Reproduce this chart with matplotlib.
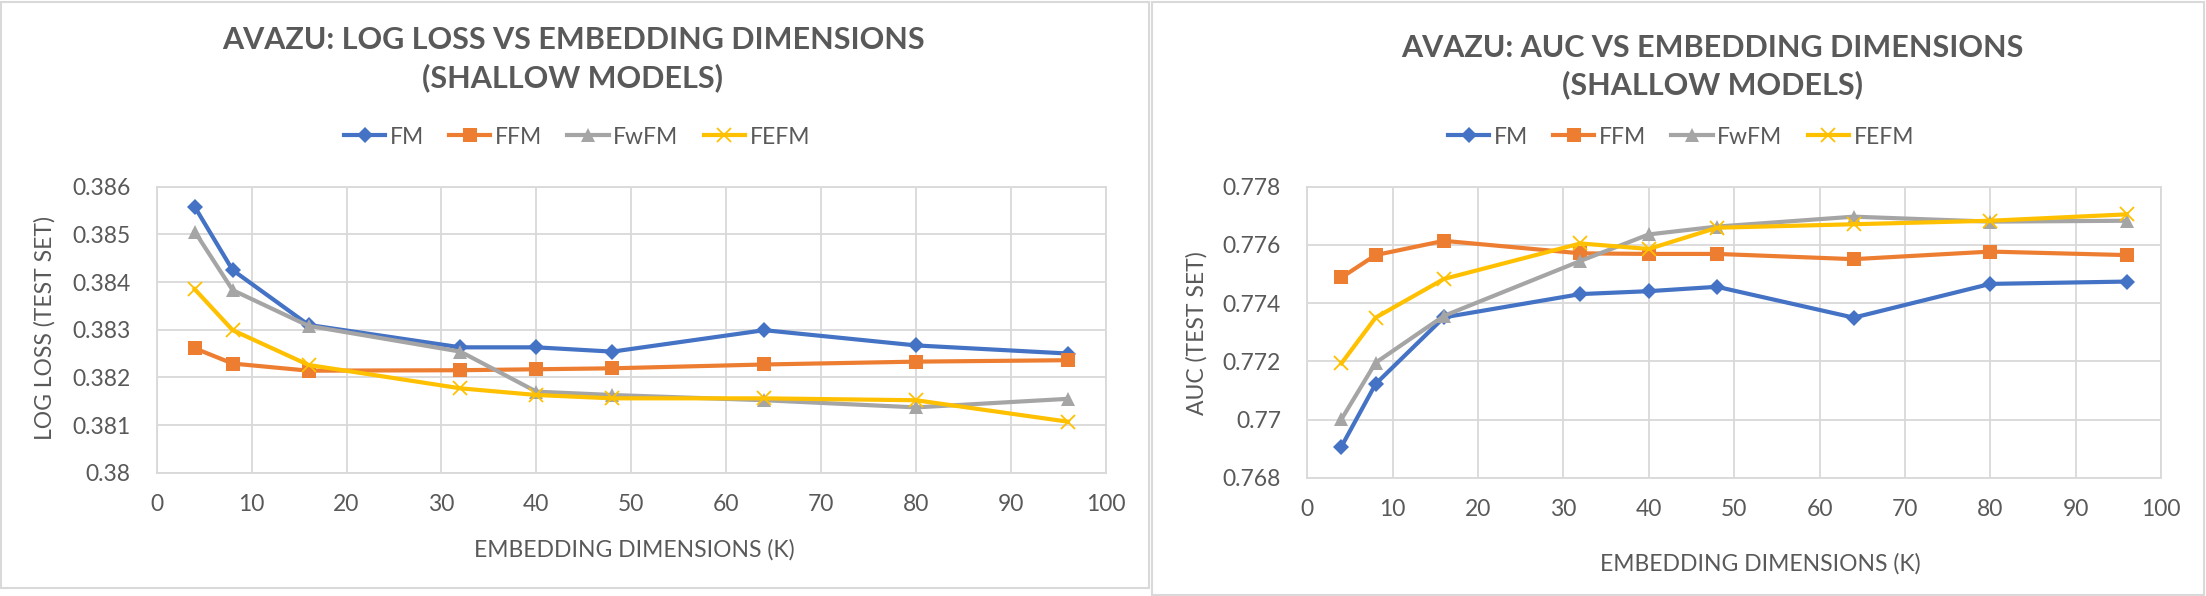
import matplotlib
matplotlib.use("Agg")
import matplotlib.pyplot as plt
from matplotlib.patches import Rectangle
from matplotlib.ticker import FuncFormatter

# ---------------- data ----------------
embedding_dims = [4, 8, 16, 32, 40, 48, 64, 80, 96]
series_names = ["FM", "FFM", "FwFM", "FEFM"]

logloss_fm = [0.38558, 0.38425, 0.38310, 0.38263, 0.38263, 0.38254, 0.38299, 0.38267, 0.38250]
logloss_ffm = [0.38261, 0.38229, 0.38214, 0.38215, 0.38217, 0.38219, 0.38227, 0.38233, 0.38236]
logloss_fwfm = [0.38506, 0.38383, 0.38308, 0.38254, 0.38170, 0.38163, 0.38152, 0.38137, 0.38155]
logloss_fefm = [0.38385, 0.38299, 0.38226, 0.38177, 0.38163, 0.38156, 0.38156, 0.38152, 0.38107]

auc_fm = [0.76907, 0.77122, 0.77351, 0.77431, 0.77441, 0.77456, 0.77350, 0.77466, 0.77474]
auc_ffm = [0.77488, 0.77565, 0.77614, 0.77571, 0.77569, 0.77569, 0.77551, 0.77577, 0.77565]
auc_fwfm = [0.77001, 0.77195, 0.77356, 0.77545, 0.77636, 0.77663, 0.77697, 0.77680, 0.77683]
auc_fefm = [0.77193, 0.77350, 0.77483, 0.77605, 0.77586, 0.77659, 0.77671, 0.77683, 0.77705]

x_ticks = [0, 10, 20, 30, 40, 50, 60, 70, 80, 90, 100]
logloss_ticks = [0.380, 0.381, 0.382, 0.383, 0.384, 0.385, 0.386]
auc_ticks = [0.768, 0.770, 0.772, 0.774, 0.776, 0.778]

title_left = "AVAZU: LOG LOSS VS EMBEDDING DIMENSIONS\n(SHALLOW MODELS)"
title_right = "AVAZU: AUC VS EMBEDDING DIMENSIONS\n(SHALLOW MODELS)"
xlabel_text = "EMBEDDING DIMENSIONS (K)"
ylabel_left = "LOG LOSS (TEST SET)"
ylabel_right = "AUC (TEST SET)"

# ---------------- style ----------------
W, H = 2206, 596
TXT = "#595959"
GRID = "#D9D9D9"
colors = ["#4472C4", "#ED7D31", "#A5A5A5", "#FFC000"]
markers = ["D", "s", "^", "x"]
msizes = [8, 9.5, 10, 10]
FONT = ["Lato", "DejaVu Sans"]
plt.rcParams["font.family"] = FONT

fig = plt.figure(figsize=(W / 100, H / 100), dpi=100)
fig.patch.set_facecolor("white")


def px_rect(x0, y0, x1, y1):
    return [x0 / W, 1 - y1 / H, (x1 - x0) / W, (y1 - y0) / H]


def style_axes(ax, yticks, ylabel, ylab_coords, xlab_coords):
    ax.set_xlim(0, 100)
    ax.set_ylim(yticks[0], yticks[-1])
    ax.set_xticks(x_ticks)
    ax.set_yticks(yticks)
    ax.yaxis.set_major_formatter(FuncFormatter(lambda v, p: "{:g}".format(round(v, 6))))
    ax.grid(True, color=GRID, linewidth=1.3)
    ax.set_axisbelow(True)
    for s in ax.spines.values():
        s.set_color(GRID)
        s.set_linewidth(1.3)
    ax.tick_params(length=0, labelsize=16.5, labelcolor=TXT)
    ax.tick_params(axis="y", pad=19)
    ax.tick_params(axis="x", pad=15)
    ax.set_ylabel(ylabel, fontsize=16.5, color=TXT, va="center")
    ax.set_xlabel(xlabel_text, fontsize=16.5, color=TXT, va="center")
    ax.yaxis.set_label_coords(*ylab_coords)
    ax.xaxis.set_label_coords(*xlab_coords)


def draw(ax, series):
    for vals, name, c, m, ms in zip(series, series_names, colors, markers, msizes):
        kw = dict(color=c, linewidth=3, marker=m, markersize=ms, label=name)
        kw["markeredgewidth"] = 1.3 if m == "x" else 0
        ax.plot(embedding_dims, vals, **kw)


# left panel
axL = fig.add_axes(px_rect(156.7, 186.7, 1106, 472.7))
draw(axL, [logloss_fm, logloss_ffm, logloss_fwfm, logloss_fefm])
style_axes(axL, logloss_ticks, ylabel_left,
           ((45 - 156.7) / 949.3, (472.7 - 328) / 286),
           ((634 - 156.7) / 949.3, (472.7 - 550) / 286))

# right panel
axR = fig.add_axes(px_rect(1307.3, 186.7, 2161, 477.7))
draw(axR, [auc_fm, auc_ffm, auc_fwfm, auc_fefm])
style_axes(axR, auc_ticks, ylabel_right,
           ((1197 - 1307.3) / 853.7, (477.7 - 333) / 291),
           ((1760 - 1307.3) / 853.7, (477.7 - 564) / 291))

# titles
fig.text(573 / W, 1 - 59 / H, title_left, ha="center", va="center",
         fontsize=22, fontweight="bold", color=TXT, linespacing=1.38)
fig.text(1712 / W, 1 - 66.5 / H, title_right, ha="center", va="center",
         fontsize=22, fontweight="bold", color=TXT, linespacing=1.35)

# legends
for ax, cx in ((axL, 577), (axR, 1681)):
    leg = ax.legend(loc="center", bbox_to_anchor=(cx / W, 1 - 137 / H),
                    bbox_transform=fig.transFigure, ncol=4, frameon=False,
                    fontsize=16.5, handlelength=1.8, handletextpad=0.2,
                    columnspacing=1.1, borderaxespad=0)
    for t in leg.get_texts():
        t.set_color(TXT)

# panel borders
for (x0, y0, x1, y1) in ((1, 2, 1149, 588), (1152, 2, 2204, 595)):
    fig.add_artist(Rectangle((x0 / W, 1 - y1 / H), (x1 - x0) / W, (y1 - y0) / H,
                             transform=fig.transFigure, fill=False,
                             edgecolor=GRID, linewidth=1.5))

fig.savefig("out.png", dpi=100, facecolor="white")
